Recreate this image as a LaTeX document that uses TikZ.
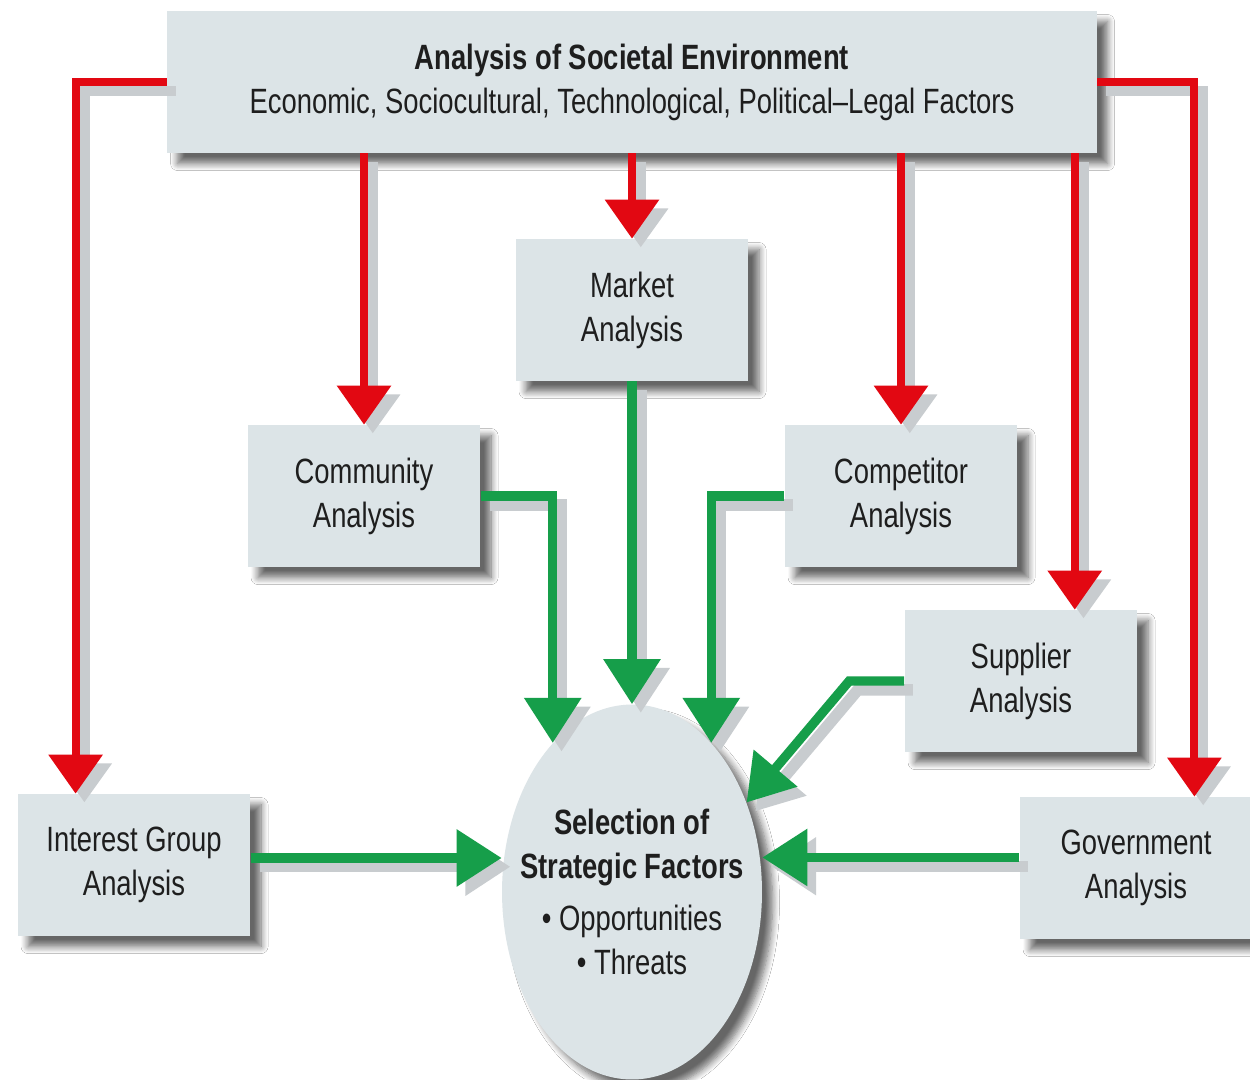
\documentclass[tikz,border=0pt]{standalone}
\usepackage{fontspec}
\setmainfont{Liberation Sans}[FakeStretch=0.78]
\usetikzlibrary{positioning,shapes.geometric,arrows.meta,shadows.blur,calc}

\definecolor{boxfill}{RGB}{220,228,231}
\definecolor{arrred}{RGB}{226,8,18}
\definecolor{arrgreen}{RGB}{22,158,74}
\definecolor{txtdark}{RGB}{30,30,30}
\definecolor{shadegray}{RGB}{200,204,207}

\tikzset{
  softshadow/.style={blur shadow={shadow xshift=6pt,shadow yshift=-6pt,shadow blur radius=4pt,
    shadow blur steps=8,shadow opacity=60}},
  anbox/.style={fill=boxfill,minimum width=4.66cm,minimum height=2.84cm,align=center,softshadow},
  redarr/.style={draw=arrred,line width=4.5pt,-{Triangle[width=1.05cm,length=0.78cm]},
    preaction={draw=shadegray,line width=6pt,transform canvas={xshift=5pt,yshift=-5pt}}},
  greenarr/.style={draw=arrgreen,line width=5.3pt,-{Triangle[width=1.1cm,length=0.9cm]},
    preaction={draw=shadegray,line width=6.5pt,transform canvas={xshift=5pt,yshift=-5pt}}}
}

\begin{document}
\begin{tikzpicture}[x=0.02cm,y=-0.02cm,
  every node/.style={text=txtdark,font=\fontsize{20}{25}\selectfont}]

    \useasboundingbox[fill=white] (0,0) rectangle (1250,1079); %page size

    % boxes
    \node[anbox,minimum width=18.6cm] (soc) at (632,82)
      {\textbf{Analysis of Societal Environment}\\Economic, Sociocultural, Technological, Political--Legal Factors};
    \node[anbox] (mkt) at (632,310) {Market\\Analysis};
    \node[anbox] (comm) at (364,496) {Community\\Analysis};
    \node[anbox] (comp) at (901,496) {Competitor\\Analysis};
    \node[anbox] (sup) at (1021,681) {Supplier\\Analysis};
    \node[anbox] (ig) at (134,865) {Interest Group\\Analysis};
    \node[anbox] (gov) at (1136,868) {Government\\Analysis};

    % selection ellipse
    \node[ellipse,fill=boxfill,minimum width=5.2cm,minimum height=7.5cm,softshadow] (sel) at (632,892) {};
    \node[align=center] (seltxt) at (sel.center)
      {\textbf{Selection of}\\\textbf{Strategic Factors}\\[5pt]\textbullet\ Opportunities\\\textbullet\ Threats};

    \coordinate (igin) at ($(ig.north west)!0.25!(ig.north east)$);
    \coordinate (supin) at ($(sup.north west)!0.73!(sup.north east)$);
    \coordinate (govin) at ($(gov.north west)!0.75!(gov.north east)$);

    % red arrows from the environment
    \draw[redarr] (soc.west) -| (igin);
    \draw[redarr] (soc.south -| comm.north) -- (comm.north);
    \draw[redarr] (soc.south) -- (mkt.north);
    \draw[redarr] (soc.south -| comp.north) -- (comp.north);
    \draw[redarr] (soc.south -| supin) -- (supin);
    \draw[redarr] (soc.east) -| (govin);

    % green arrows into the selection
    \draw[greenarr] (comm.east) -| (sel.118);
    \draw[greenarr] (mkt.south) -- (sel.north);
    \draw[greenarr] (comp.west) -| (sel.62);
    \draw[greenarr] (sup.west) -- ++(-55,0) -- (sel.38);
    \draw[greenarr] ([yshift=4pt]ig.east) -- ([yshift=4pt]ig.east -| sel.west);
    \draw[greenarr] ([yshift=6pt]gov.west) -- ([yshift=6pt]gov.west -| sel.east);

\end{tikzpicture}
\end{document}
